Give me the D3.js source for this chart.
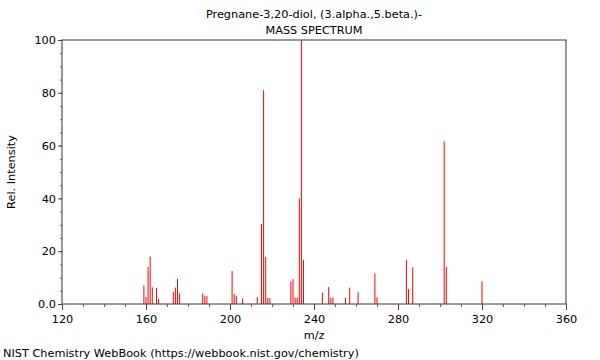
<!DOCTYPE html>
<html><head><meta charset="utf-8">
<script src="https://cdn.jsdelivr.net/npm/d3@7"></script>
<style>
html,body{margin:0;padding:0;background:#fff;}
svg{display:block;font-family:"DejaVu Sans",sans-serif;}
</style></head>
<body>
<svg id="c" width="600" height="360"></svg>
<script>
const titleLines = ["Pregnane-3,20-diol, (3.alpha.,5.beta.)-", "MASS SPECTRUM"];
const mz = [159,160,161,162,163,165,166,173,174,175,176,187,188,189,201,202,203,206,213,215,216,217,218,219,229,230,231,232,233,234,235,244,247,248,249,255,257,261,269,270,284,285,287,302,303,320];
const intensity = [7,2.7,14,18,6.3,6.1,2,4.6,6.2,9.5,4,4,3,3,12.5,3.8,3,2.1,2.6,30.3,81,17.9,2.3,2.3,8.6,9.4,2.4,2.4,40,100,16.7,4.3,6.4,2.4,2.4,2.4,6.2,4.5,11.6,2.5,16.7,5.6,13.9,61.6,14,8.6];
const xTicks = [120,160,200,240,280,320,360];
const yTicks = [0,20,40,60,80,100];
const yTickLabels = ["0.0","20","40","60","80","100"];

const svg = d3.select("#c");
const L=62, R=566, T=40, B=304;
const FS = 11.3;
const x = d3.scaleLinear().domain([120,360]).range([L,R]);
const y = d3.scaleLinear().domain([0,100]).range([B,T]);
const axisColor = "#333";

// peaks
svg.append("g").selectAll("line").data(mz).join("line")
  .attr("x1", d=>x(d)).attr("x2", d=>x(d))
  .attr("y1", y(0)).attr("y2", (d,i)=>y(intensity[i]))
  .attr("stroke", "#ff0000").attr("stroke-width", 1);

// frame
svg.append("rect").attr("x",L).attr("y",T).attr("width",R-L).attr("height",B-T)
  .attr("fill","none").attr("stroke",axisColor).attr("stroke-width",1);

// x axis
const gx = svg.append("g").attr("transform",`translate(0,${B})`);
gx.call(d3.axisBottom(x).tickValues(d3.range(120,361,10)).tickSize(3).tickFormat(""))
  .call(g=>g.select(".domain").remove())
  .call(g=>g.selectAll("line").attr("stroke","#666"));
gx.append("g").call(d3.axisBottom(x).tickValues(xTicks).tickSize(6).tickFormat(d3.format("d")))
  .call(g=>g.select(".domain").remove())
  .call(g=>g.selectAll("line").attr("stroke","#444"))
  .call(g=>g.selectAll("text").attr("font-family","DejaVu Sans").attr("font-size",FS).attr("fill","#000").attr("dy","0.9em"));

// y axis
const gy = svg.append("g").attr("transform",`translate(${L},0)`);
gy.call(d3.axisLeft(y).tickValues(d3.range(0,101,5)).tickSize(2).tickFormat(""))
  .call(g=>g.select(".domain").remove())
  .call(g=>g.selectAll("line").attr("stroke","#666"));
gy.append("g").call(d3.axisLeft(y).tickValues(yTicks).tickSize(4).tickFormat((d,i)=>yTickLabels[i]))
  .call(g=>g.select(".domain").remove())
  .call(g=>g.selectAll("line").attr("stroke","#444"))
  .call(g=>g.selectAll("text").attr("font-family","DejaVu Sans").attr("font-size",FS).attr("fill","#000").attr("x",-6));

// titles
svg.append("text").attr("x",(L+R)/2).attr("y",18).attr("text-anchor","middle")
  .attr("font-size",FS).text(titleLines[0]);
svg.append("text").attr("x",(L+R)/2).attr("y",34).attr("text-anchor","middle")
  .attr("font-size",FS).text(titleLines[1]);
svg.append("text").attr("x",(L+R)/2).attr("y",339).attr("text-anchor","middle")
  .attr("font-size",FS).text("m/z");
svg.append("text").attr("transform",`translate(15,${(T+B)/2}) rotate(-90)`).attr("text-anchor","middle")
  .attr("font-size",FS).text("Rel. Intensity");
svg.append("text").attr("x",3).attr("y",357).attr("font-size",FS)
  .text("NIST Chemistry WebBook (https://webbook.nist.gov/chemistry)");
</script>
</body></html>
